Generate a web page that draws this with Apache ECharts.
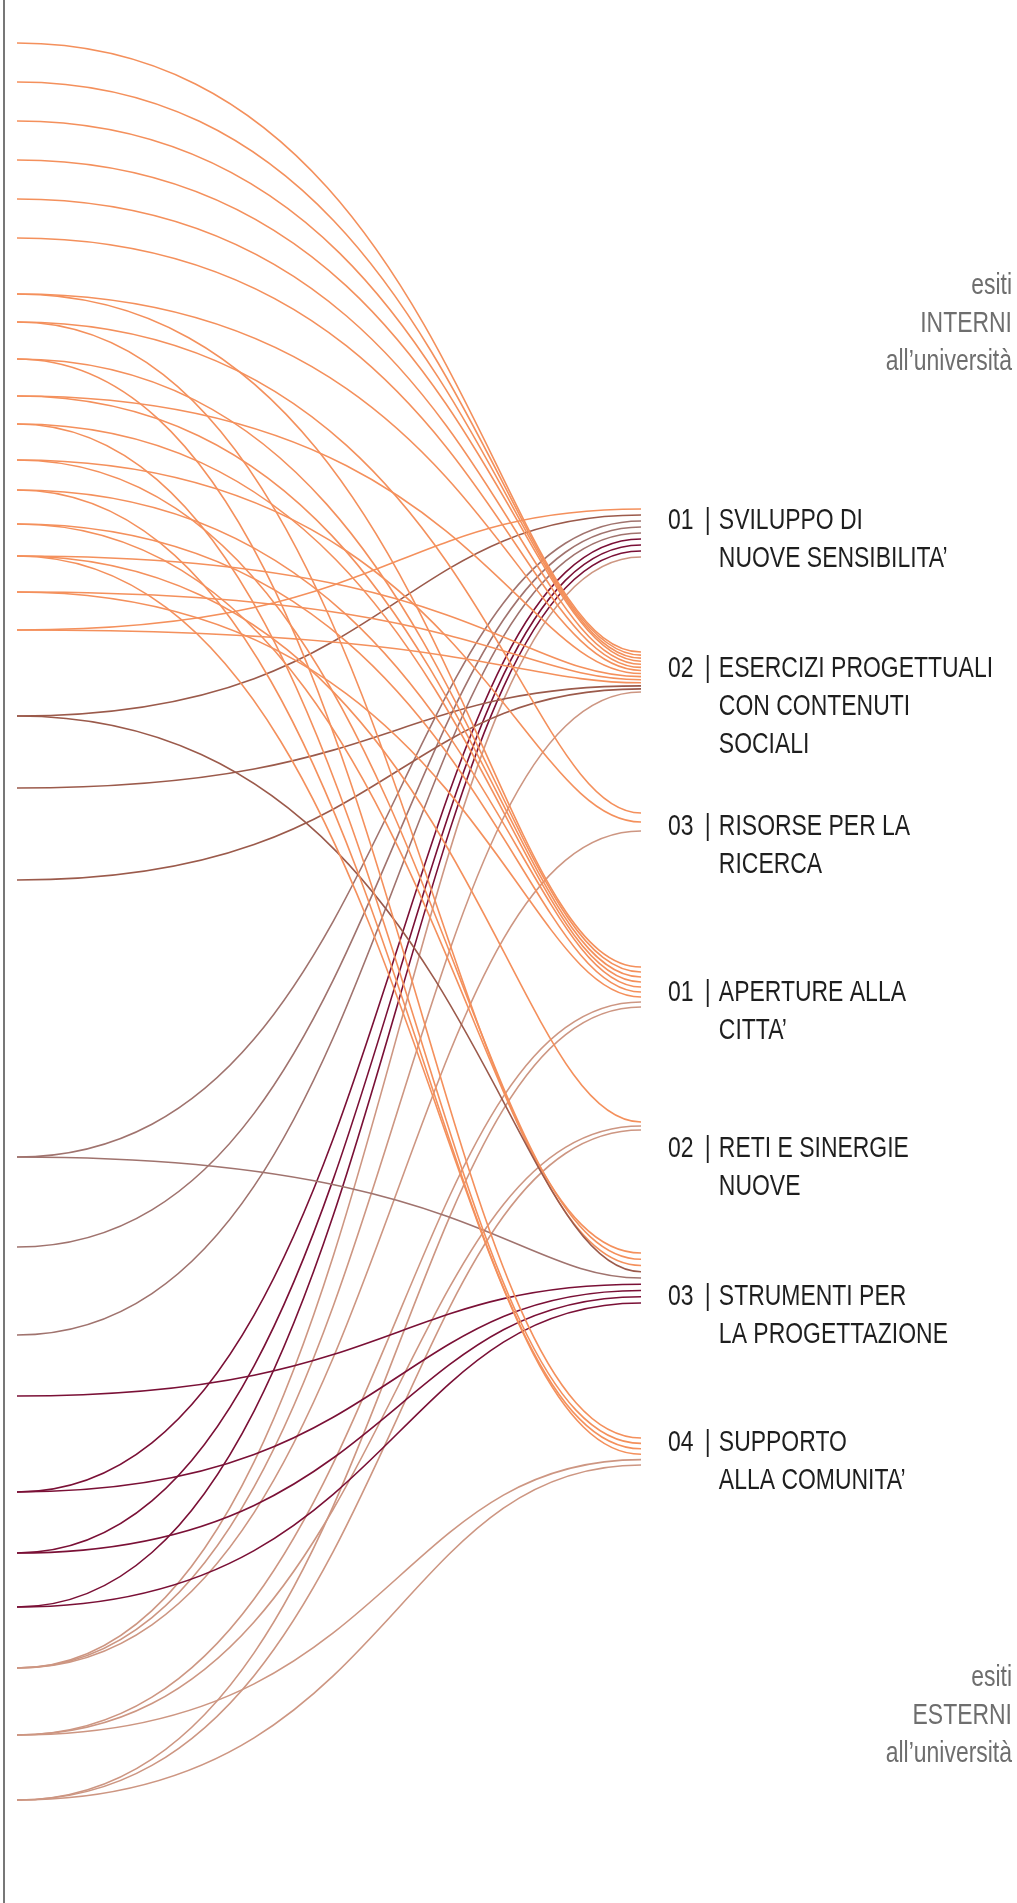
<!DOCTYPE html>
<html>
<head>
<meta charset="utf-8">
<script src="https://cdn.jsdelivr.net/npm/echarts@6.0.0/dist/echarts.min.js"></script>
<style>
  html, body { margin: 0; padding: 0; background: #fff; }
  #chart { width: 1017px; height: 1903px; }
</style>
</head>
<body>
<div id="chart"></div>
<script>
// outcomes (right column), top to bottom
const targetNum = ['01', '02', '03', '01', '02', '03', '04'];
const targetLines = [
  ['SVILUPPO DI', 'NUOVE SENSIBILITA’'],
  ['ESERCIZI PROGETTUALI', 'CON CONTENUTI', 'SOCIALI'],
  ['RISORSE PER LA', 'RICERCA'],
  ['APERTURE ALLA', 'CITTA’'],
  ['RETI E SINERGIE', 'NUOVE'],
  ['STRUMENTI PER', 'LA PROGETTAZIONE'],
  ['SUPPORTO', 'ALLA COMUNITA’']
];
// where each outcome bundle sits on the vertical scale
const targetTop = [509, 652, 813, 967, 1122, 1253, 1438];
const targetBottom = [557, 692, 831, 1007, 1130, 1303, 1465];
const labelY = [521, 669, 827, 993, 1149, 1297, 1443];

// experiences (left column) grouped by colour, with the outcomes they link to
const orangeSources = [43, 82, 121, 160, 199, 238, 294, 322, 359, 396, 424, 460, 490, 524, 556, 592, 630];
const orangeTargets = [[1], [1], [1], [1], [1], [1], [1, 3], [2, 5], [3, 6], [1, 3], [3, 6], [2, 5], [3, 6], [3, 5], [1, 4, 6], [1, 3], [0, 1]];
const brownSources = [716, 788, 880];
const brownTargets = [[0, 5], [1], [1]];
const mauveSources = [1157, 1247, 1335];
const mauveTargets = [[0, 5], [0], [0]];
const crimsonSources = [1396, 1492, 1553, 1607];
const crimsonTargets = [[5], [0, 5], [0, 5], [0, 5]];
const tanSources = [1668, 1735, 1800];
const tanTargets = [[0, 1, 2], [3, 4, 6], [3, 4, 6]];

const colors = ['#f4905c', '#9b5a4b', '#a0736e', '#7a1036', '#cd9682'];
const groups = [
  [orangeSources, orangeTargets],
  [brownSources, brownTargets],
  [mauveSources, mauveTargets],
  [crimsonSources, crimsonTargets],
  [tanSources, tanTargets]
];

// flatten to links, then spread the ends of each bundle
const links = [];
groups.forEach(function (g, ci) {
  g[0].forEach(function (sy, i) {
    g[1][i].forEach(function (t) { links.push({ sy: sy, t: t, c: ci }); });
  });
});
const linkData = [];
targetTop.forEach(function (top, t) {
  const ls = links.filter(function (l) { return l.t === t; }).sort(function (a, b) { return a.sy - b.sy; });
  const step = ls.length > 1 ? (targetBottom[t] - top) / (ls.length - 1) : 0;
  ls.forEach(function (l, k) { linkData.push([l.sy, top + k * step, l.c]); });
});

const FONT = '"Liberation Sans", Arial, sans-serif';
const SX = 0.765;

const chart = echarts.init(document.getElementById('chart'));
chart.setOption({
  animation: false,
  backgroundColor: '#fff',
  grid: { left: 17, right: 376, top: 0, bottom: 0 },
  xAxis: { type: 'value', min: 0, max: 1, show: false },
  yAxis: {
    type: 'value', min: 0, max: 1903, inverse: true, offset: 13,
    axisLine: { show: true, onZero: false, lineStyle: { color: '#777', width: 2 } },
    axisTick: { show: false }, axisLabel: { show: false }, splitLine: { show: false }
  },
  graphic: [
    {
      type: 'text', x: 1012, y: 267, scaleX: SX,
      style: {
        text: 'esiti\nINTERNI\nall’università', align: 'right', verticalAlign: 'top',
        font: '30px ' + FONT, lineHeight: 38, fill: '#6e6e6e'
      }
    },
    {
      type: 'text', x: 1012, y: 1659, scaleX: SX,
      style: {
        text: 'esiti\nESTERNI\nall’università', align: 'right', verticalAlign: 'top',
        font: '30px ' + FONT, lineHeight: 38, fill: '#6e6e6e'
      }
    }
  ],
  series: [
    {
      type: 'custom',
      data: linkData,
      renderItem: function (params, api) {
        const p0 = api.coord([0, api.value(0)]);
        const p1 = api.coord([1, api.value(1)]);
        const dx = p1[0] - p0[0];
        const drop = p1[1] - p0[1];
        let a = 0.6, b = 0.4;
        if (drop > 0) {
          // short falls bend late, long falls are closer to a plain S
          const k = Math.min(1, Math.max(0, (drop - 500) / 500));
          a = 0.72 - 0.12 * k;
          b = 0.2 + 0.15 * k;
        }
        return {
          type: 'bezierCurve',
          shape: {
            x1: p0[0], y1: p0[1], x2: p1[0], y2: p1[1],
            cpx1: p0[0] + dx * a, cpy1: p0[1],
            cpx2: p1[0] - dx * b, cpy2: p1[1]
          },
          style: { stroke: colors[api.value(2)], lineWidth: 1.6, fill: null }
        };
      }
    },
    {
      type: 'custom',
      data: labelY.map(function (y, i) { return [1, y, i]; }),
      renderItem: function (params, api) {
        const i = api.value(2);
        const p = api.coord([1, api.value(1)]);
        const lines = targetLines[i];
        let txt = '{n|' + targetNum[i] + '}{b||}{t|' + lines[0] + '}';
        for (let k = 1; k < lines.length; k++) txt += '\n{n|}{b|}{t|' + lines[k] + '}';
        return {
          type: 'text', x: p[0] + 27, y: p[1] - 19, scaleX: SX,
          style: {
            text: txt, verticalAlign: 'top', align: 'left',
            rich: {
              n: { width: 48, font: '30px ' + FONT, lineHeight: 38, fill: '#1e1e1e' },
              b: { width: 18.5, font: '30px ' + FONT, lineHeight: 38, fill: '#1e1e1e' },
              t: { font: '30px ' + FONT, lineHeight: 38, fill: '#1e1e1e' }
            }
          }
        };
      }
    }
  ]
});
</script>
</body>
</html>
